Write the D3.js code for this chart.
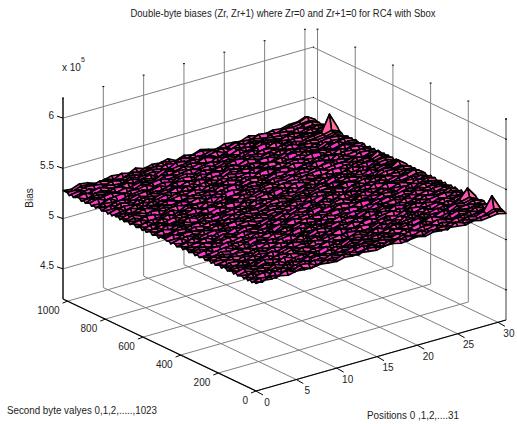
<!DOCTYPE html>
<html><head><meta charset="utf-8">
<style>html,body{margin:0;padding:0;background:#fff}svg{display:block}text{font-family:"Liberation Sans",Arial,sans-serif;fill:#222}</style>
<script src="https://cdnjs.cloudflare.com/ajax/libs/d3/7.8.5/d3.min.js"></script>
</head><body><svg id="c" width="517" height="424"></svg>
<script>
const titleText = "Double-byte biases (Zr, Zr+1) where Zr=0 and Zr+1=0 for RC4 with Sbox";
const zLabel = "Bias";
const yLabel = "Second byte valyes 0,1,2,.....,1023";
const xLabel = "Positions 0 ,1,2,....31";
const xTicks = [0,5,10,15,20,25,30];
const yTicks = [0,200,400,600,800,1000];
const zTicks = [4.5,5,5.5,6];
const zTickLabels = ["4.5","5","5.5","6"];
const xDomain = [0,31], yDomain = [0,1024], zDomain = [4.2,6.2];
const colourLimits = [5.2,5.47];
// bias per row of second-byte values, thousands above 500000
const biasRows = [
[27,28,27,28,26,28,27,27,28,27,26,28,27,28,27,26,28,28,26,27,28,26,28,27,28,27,26,28,26,27,28,26],
[28,25,29,27,30,26,28,25,27,29,26,30,27,25,29,28,26,27,30,25,28,26,29,27,25,30,27,26,28,28,30,27],
[26,28,27,24,28,26,30,29,25,27,28,26,29,26,27,30,25,29,26,28,27,30,25,28,27,26,29,27,25,28,31,28],
[28,27,25,30,26,28,25,27,29,26,30,27,25,28,30,26,28,25,27,29,26,27,28,30,26,28,25,29,27,30,43,29],
[26,28,30,26,29,27,28,30,26,28,25,29,27,30,25,27,29,28,26,25,30,28,26,25,29,27,30,26,28,28,31,27],
[28,26,27,29,25,30,26,24,28,30,27,25,28,26,29,28,26,30,27,29,25,27,29,28,26,25,27,29,26,28,29,26],
[26,29,25,27,28,26,29,27,30,25,28,26,30,27,25,29,27,25,28,26,30,26,25,27,30,28,26,25,29,27,28,28],
[28,27,28,26,30,27,25,29,26,28,27,29,25,28,26,30,28,26,29,27,25,28,30,26,27,29,25,28,26,30,27,26],
[27,25,29,28,26,24,28,26,27,30,25,27,29,26,28,25,27,29,26,30,28,26,27,29,25,26,28,30,27,26,29,28],
[26,28,26,30,27,29,25,28,29,26,28,30,26,25,29,27,30,26,28,25,27,29,26,28,30,27,29,26,25,28,27,27],
[28,30,27,25,29,26,30,27,25,28,26,25,29,27,30,26,25,28,27,29,26,30,25,27,28,26,25,29,27,26,28,26],
[26,27,29,26,28,25,27,30,28,26,29,27,26,30,25,28,26,29,25,27,30,26,28,29,25,27,30,26,28,29,27,28],
[28,25,28,27,30,28,26,25,29,27,24,28,30,26,27,29,28,25,30,26,28,27,25,30,26,28,27,25,29,27,30,28],
[27,28,26,29,25,27,29,28,26,30,27,29,25,28,26,27,30,26,28,25,29,26,28,27,29,25,26,28,30,28,30,26],
[26,29,27,26,28,30,26,27,29,25,28,26,27,29,30,25,27,28,26,29,27,25,30,26,28,27,29,25,27,29,31,27],
[28,26,30,25,27,29,25,28,30,27,26,30,28,25,26,29,28,26,27,30,25,28,26,29,25,30,26,28,26,30,39,29],
[28,27,25,28,26,27,30,26,25,28,29,25,27,29,28,26,25,30,29,26,28,27,29,25,28,26,27,30,25,29,31,28],
[26,29,28,27,29,25,28,27,29,26,24,28,26,30,27,25,29,27,25,28,30,26,25,28,27,29,25,27,29,26,30,26],
[28,25,26,30,27,28,26,25,27,30,28,27,29,25,28,30,26,28,26,27,25,29,27,30,26,25,28,29,26,28,29,28],
[27,29,28,25,26,30,27,29,26,28,25,29,26,27,30,28,27,25,29,30,26,28,25,27,29,28,26,25,30,27,28,26],
[26,27,30,28,29,26,25,28,30,27,29,26,28,25,27,29,26,30,28,25,27,29,30,26,28,25,29,27,26,29,27,28],
[28,28,25,27,26,29,28,26,25,29,27,30,25,28,26,25,29,27,26,28,30,25,27,29,26,30,27,25,28,26,30,26],
[26,30,27,29,28,25,27,30,28,26,25,28,27,30,29,26,28,25,30,27,26,29,28,25,27,29,26,28,29,30,28,28],
[28,26,25,27,30,28,26,25,27,29,30,26,29,25,27,28,30,26,27,29,25,28,26,30,28,25,29,27,25,28,29,26],
[27,29,28,26,25,27,29,28,30,26,27,25,28,27,30,26,25,29,28,26,30,27,29,26,25,28,26,30,28,27,31,27],
[26,27,30,28,29,26,30,27,25,28,29,26,27,30,25,28,27,26,29,25,28,26,30,27,29,26,28,25,27,29,28,28],
[28,26,27,25,28,30,26,29,27,26,25,28,30,26,29,27,28,30,25,27,29,28,25,28,26,30,27,29,26,28,30,26],
[27,28,29,30,26,27,25,28,26,30,27,29,25,28,27,25,29,26,28,30,26,25,27,29,30,27,25,28,30,26,28,28],
[26,25,27,28,29,25,28,30,27,25,29,26,28,30,26,29,27,25,29,27,28,26,30,25,28,26,29,27,25,29,29,27],
[28,30,26,25,27,29,26,25,28,29,27,30,26,25,28,27,30,28,26,25,27,29,28,26,27,29,25,30,28,26,30,26],
[26,27,29,28,30,26,28,27,25,30,26,28,27,29,26,25,28,26,27,30,29,26,25,28,30,26,28,26,27,29,28,28],
[28,26,28,27,25,28,30,26,29,27,25,29,26,28,30,27,25,29,30,26,28,25,27,29,26,28,30,27,29,26,30,26],
[27,28,25,30,26,27,25,29,28,26,28,30,27,25,26,29,28,26,25,28,27,30,29,25,28,27,26,25,28,30,27,28],
[26,29,27,25,28,30,27,25,26,29,27,25,28,30,27,25,30,27,28,26,25,28,26,27,30,29,25,28,26,27,29,27],
[28,25,30,27,29,26,28,30,27,25,28,26,29,26,28,29,26,25,27,30,28,27,29,25,26,28,27,30,25,29,28,26],
[28,27,26,28,25,29,26,28,29,27,30,26,25,28,30,27,25,28,29,26,25,29,26,28,27,30,26,25,29,27,30,28],
[26,28,29,25,27,30,28,25,26,29,25,27,29,26,27,25,29,30,26,28,27,25,30,27,29,25,28,27,26,30,28,26],
[28,25,27,30,26,28,25,27,30,28,26,29,27,25,30,28,26,27,25,29,30,26,28,25,27,29,26,30,28,25,29,28],
[27,29,26,28,29,25,27,30,26,25,28,30,26,29,28,26,27,29,28,25,26,28,27,30,26,28,25,27,29,28,30,27],
[26,27,30,26,25,28,29,26,28,27,25,27,28,30,25,29,28,26,30,27,29,25,28,26,29,27,30,28,25,30,28,26],
[28,26,28,27,29,30,26,25,29,30,27,26,29,25,27,30,25,28,27,26,28,30,25,29,28,26,25,29,27,28,30,28],
[28,30,25,29,27,25,28,27,26,25,29,28,25,27,29,26,28,30,26,29,25,27,29,27,25,30,28,26,29,30,33,28],
[26,27,29,26,30,28,26,29,30,28,26,30,27,28,26,25,29,27,25,28,30,26,28,25,30,27,26,28,30,28,30,27],
[28,28,26,28,25,27,30,26,25,27,29,25,28,30,27,29,26,25,28,30,27,29,26,28,27,25,29,27,26,29,28,28],
[27,25,29,30,27,29,25,28,27,29,26,28,27,25,29,28,30,27,26,25,29,28,25,30,26,28,27,30,28,26,30,26],
[28,30,27,25,28,26,29,27,30,26,28,25,29,27,26,30,27,25,29,27,26,30,28,27,29,26,30,28,29,28,29,28],
[28,26,28,27,30,28,25,29,28,26,30,27,26,29,28,26,28,29,27,30,28,26,29,25,28,30,27,29,26,30,28,27],
[28,27,30,29,26,27,29,28,26,30,27,29,28,30,26,29,27,30,28,26,29,28,27,30,28,27,29,28,30,29,30,28],
[26,28,25,27,29,30,26,28,25,27,30,26,29,25,28,27,26,29,30,25,27,28,26,29,25,30,28,26,27,29,30,27],
[28,25,27,30,26,28,29,25,27,28,26,30,25,27,29,30,28,25,27,26,29,30,25,28,27,26,29,25,30,29,34,28],
[27,30,28,26,25,27,30,28,29,26,25,28,27,29,26,25,30,27,29,28,26,25,29,27,30,28,25,27,28,30,30,26],
[26,28,26,29,27,25,28,26,30,27,29,26,28,25,30,27,28,26,25,29,27,30,26,28,25,29,27,30,26,28,30,28],
[28,26,30,27,29,26,25,30,27,28,25,29,26,30,27,25,29,28,27,30,26,28,25,27,29,26,30,28,27,29,28,26],
[28,29,25,28,26,30,27,29,25,26,28,27,30,25,28,26,27,30,25,28,29,26,27,30,25,28,26,27,29,28,29,28],
[26,27,29,25,28,27,29,26,28,30,27,25,28,26,29,30,25,27,29,26,28,25,30,26,29,27,28,25,30,27,26,28],
[28,25,30,26,27,29,25,28,26,25,29,30,27,28,25,26,29,30,28,25,27,29,26,28,27,30,25,29,26,28,29,26],
[26,29,27,28,30,26,28,27,30,29,26,27,25,29,28,30,26,25,27,30,28,26,29,25,28,26,30,27,25,29,30,28],
[28,26,28,25,27,30,26,25,28,27,30,26,29,27,25,28,27,29,26,25,30,27,28,29,26,25,27,28,29,28,30,27],
[27,30,26,29,25,28,27,30,26,29,25,28,26,30,27,29,25,28,30,27,26,28,25,27,30,29,26,30,28,29,31,28],
[26,28,29,27,30,25,29,26,27,25,28,29,27,25,30,26,28,27,25,29,28,30,27,26,25,28,29,26,30,29,34,26],
[28,25,27,28,26,27,28,29,25,30,26,27,29,28,26,25,29,30,26,27,25,28,29,30,27,26,25,29,27,29,30,28],
[28,29,26,25,28,30,26,27,29,28,25,30,26,27,29,28,26,25,29,28,30,26,27,25,28,29,30,27,26,28,29,26],
[26,27,30,29,26,28,25,29,26,27,30,28,25,26,28,30,27,29,26,25,27,29,28,30,26,27,28,25,29,27,30,27],
[28,26,28,27,25,29,30,28,27,26,28,25,29,30,27,26,28,25,30,27,29,26,25,28,29,30,26,27,28,26,28,28],
[27,28,25,30,29,26,27,25,28,30,26,29,27,28,25,29,30,26,28,29,25,27,30,26,27,25,29,28,26,30,29,26],
[26,30,27,25,28,29,26,30,27,25,29,27,30,25,26,28,27,29,25,26,28,30,27,29,25,28,26,30,27,25,27,28],
[28,25,29,26,27,30,28,26,29,28,26,25,27,29,30,25,28,26,27,30,29,25,28,26,30,29,27,25,28,29,30,26],
[26,29,27,30,28,26,25,27,28,30,27,29,26,25,28,27,30,29,26,28,25,27,26,29,27,28,25,30,26,27,28,28],
[28,26,28,25,29,27,30,28,25,26,29,28,27,30,26,29,25,27,28,26,30,29,25,27,28,26,30,27,29,28,26,27],
[27,28,26,29,25,28,26,29,30,27,25,26,29,28,27,25,30,28,26,25,29,27,30,28,26,29,25,28,26,30,29,26],
[28,25,30,27,28,26,29,25,27,28,30,27,25,26,30,28,26,25,29,30,27,28,26,25,29,27,28,26,30,27,25,28],
[26,27,28,30,26,29,25,27,30,26,28,25,29,27,28,26,29,30,27,25,28,26,29,30,27,25,26,29,28,26,29,28],
[28,30,25,26,29,27,28,30,26,29,27,30,26,28,25,29,27,28,26,29,25,30,27,26,28,30,29,25,27,30,27,26],
[26,26,29,28,27,30,26,28,25,27,26,28,30,25,29,27,26,25,30,28,27,26,29,28,25,27,30,28,26,29,28,27],
[28,28,27,25,30,26,27,29,28,25,30,26,27,29,26,30,28,27,25,26,30,29,25,27,29,26,28,30,25,27,29,28],
[27,25,30,28,26,29,28,25,27,30,26,29,25,28,30,26,25,29,28,27,26,28,30,25,27,29,26,25,28,30,26,26],
[26,29,26,27,28,25,30,27,29,26,28,25,30,27,28,25,29,26,30,25,28,27,26,29,30,28,27,26,29,27,30,28],
[28,27,29,30,25,28,26,29,25,28,27,30,26,29,25,27,30,28,26,29,27,25,28,30,26,25,29,27,30,26,28,26],
[28,26,25,28,27,29,30,26,27,29,25,27,28,26,30,29,27,25,28,26,29,30,27,25,28,29,26,30,25,28,27,28],
[26,28,27,26,29,27,25,28,30,26,29,28,26,30,27,25,28,30,26,27,25,28,29,26,30,27,28,25,29,30,29,27],
[28,27,30,25,26,28,29,27,26,25,28,30,29,25,27,28,26,29,27,30,28,26,25,30,27,26,29,28,26,29,30,26],
[26,25,28,29,30,26,27,25,28,29,27,26,25,28,30,27,29,26,25,28,30,27,29,26,28,25,27,30,28,29,31,28],
[28,30,26,27,25,29,28,30,26,27,25,29,30,27,26,28,25,27,30,29,26,25,28,29,27,30,26,28,29,30,32,29],
[27,26,29,30,28,25,27,26,29,30,28,25,27,26,29,30,26,28,25,27,29,28,26,25,30,27,25,29,30,31,47,32],
[26,29,27,26,28,30,26,29,25,28,26,27,29,30,28,25,27,29,26,30,25,27,29,28,26,29,28,26,27,29,32,28],
[28,28,25,29,27,26,28,30,27,25,29,28,26,25,27,29,30,26,28,25,27,30,26,28,25,27,30,29,28,29,30,27],
[26,27,28,25,30,29,25,27,28,26,30,27,29,28,25,26,28,27,30,26,29,28,25,27,30,26,28,27,30,28,29,28],
[28,25,29,27,26,28,30,25,29,27,26,25,28,30,27,29,25,30,27,28,26,25,29,30,26,28,27,25,29,27,30,26],
[28,30,26,28,25,27,29,26,28,30,25,29,27,26,30,28,26,25,29,27,30,26,28,25,29,27,30,26,28,30,28,28],
[27,26,28,30,27,25,28,29,26,25,27,30,28,29,25,27,30,28,26,25,28,29,27,30,26,25,28,29,27,26,31,26],
[26,28,30,26,29,27,26,30,27,28,29,26,25,27,28,30,26,29,25,28,30,27,26,29,28,27,25,30,26,29,28,28],
[28,29,27,25,26,30,28,27,25,29,30,28,26,30,29,25,27,28,30,26,27,25,30,26,29,28,27,26,30,28,29,27],
[26,27,30,29,28,26,25,29,28,26,27,25,30,28,26,27,29,25,28,30,26,29,27,28,25,30,29,28,26,30,31,28],
[28,28,26,27,30,28,27,26,30,27,28,29,27,25,30,28,26,27,29,26,28,30,25,29,27,26,28,30,29,30,31,28],
[28,26,29,28,27,29,26,30,28,26,29,27,30,28,27,26,29,30,27,28,26,29,28,27,30,29,26,28,30,31,34,29],
[28,27,30,29,26,27,29,28,26,30,27,29,28,30,26,29,27,30,28,26,29,28,27,30,28,27,29,28,30,30,33,28]
];
const positions = d3.range(biasRows[0].length);
const byteValues = biasRows.map((_, j) => j * 1023 / (biasRows.length - 1));
const zVal = v => 5 + v / 100;            // ×10^5

const svg = d3.select("#c");
const axisLeft = 63, axisFrontX = 256, axisRight = 506;
const floorLeft = 299, floorFront = 391, floorRight = 320, zPx = 201;
const sxX = d3.scaleLinear().domain(xDomain).range([0, axisRight - axisFrontX]);
const sxY = d3.scaleLinear().domain(yDomain).range([0, axisLeft - axisFrontX]);
const syX = d3.scaleLinear().domain(xDomain).range([0, floorRight - floorFront]);
const syY = d3.scaleLinear().domain(yDomain).range([0, floorLeft - floorFront]);
const syZ = d3.scaleLinear().domain(zDomain).range([0, -zPx]);
const P = (x, y, z) => [axisFrontX + sxX(x) + sxY(y), floorFront + syX(x) + syY(y) + syZ(z)];
const line = (a, b, col, w) => svg.append("line").attr("x1", a[0]).attr("y1", a[1]).attr("x2", b[0]).attr("y2", b[1])
  .attr("stroke", col).attr("stroke-width", w);
const [zMin, zMax] = zDomain, [xMin, xMax] = xDomain, [yMin, yMax] = yDomain;
const gridCol = "#808080";

// floor grid and walls
xTicks.forEach(x => {
  line(P(x, yMin, zMin), P(x, yMax, zMin), gridCol, 1);
  line(P(x, yMax, zMin), P(x, yMax, zMax), gridCol, 1);
  const top = P(x, yMax, zMax); line([top[0]-1, top[1]], [top[0]+1, top[1]], "#000", 1);
});
yTicks.forEach(y => {
  line(P(xMin, y, zMin), P(xMax, y, zMin), gridCol, 1);
  line(P(xMax, y, zMin), P(xMax, y, zMax), gridCol, 1);
  const top = P(xMax, y, zMax); line([top[0]-1, top[1]], [top[0]+1, top[1]], "#000", 1);
});
line(P(xMax, yMin, zMin), P(xMax, yMin, zMax), gridCol, 1);
const t0 = P(xMax, yMin, zMax); line([t0[0]-1, t0[1]], [t0[0]+1, t0[1]], "#000", 1);
zTicks.forEach(z => {
  line(P(xMin, yMax, z), P(xMax, yMax, z), gridCol, 1);
  line(P(xMax, yMax, z), P(xMax, yMin, z), gridCol, 1);
  const e = P(xMax, yMin, z); line([e[0]-1, e[1]], [e[0]+1, e[1]], "#000", 1);
  const b = P(xMax, yMax, z); line([b[0], b[1]], [b[0]+1, b[1]], "#000", 1);
});

// surface, far cells first; each face takes the colour of its first corner (spring colormap)
const colour = d3.scaleLinear().domain(colourLimits).range(["#ff00ff", "#ffff00"]).clamp(true);
const cells = [];
for (let j = biasRows.length - 2; j >= 0; j--) for (let i = positions.length - 2; i >= 0; i--) cells.push({i, j});
const corner = (i, j) => P(positions[i], byteValues[j], zVal(biasRows[j][i]));
svg.append("g").selectAll("path").data(cells).join("path")
  .attr("d", d => "M" + [corner(d.i,d.j), corner(d.i+1,d.j), corner(d.i+1,d.j+1), corner(d.i,d.j+1)].join("L") + "Z")
  .attr("fill", d => colour(zVal(biasRows[d.j][d.i])))
  .attr("stroke", "#000").attr("stroke-width", 1.6).attr("stroke-linejoin", "round");

// axes
line(P(xMin, yMax, zMin), P(xMin, yMax, zMax), "#000", 1.2);
line(P(xMin, yMax, zMin), P(xMin, yMin, zMin), "#000", 1.2);
line(P(xMin, yMin, zMin), P(xMax, yMin, zMin), "#000", 1.2);
const label = (x, y, s, size, anchor) => svg.append("text").attr("x", x).attr("y", y).attr("font-size", size)
  .attr("text-anchor", anchor || "start").attr("dominant-baseline", "middle").text(s);
zTicks.forEach((z, k) => {
  const p = P(xMin, yMax, z);
  line(p, [p[0]-6, p[1]-2], "#000", 1);
  label(p[0]-9, p[1]-2, zTickLabels[k], 10, "end");
});
yTicks.forEach(y => {
  const p = P(xMin, y, zMin);
  line(p, [p[0]-5, p[1]+2], "#000", 1);
  label(p[0]-8, p[1]+10, d3.format("d")(y), 10, "end");
});
xTicks.forEach(x => {
  const p = P(x, yMin, zMin);
  line(p, [p[0]+7, p[1]+4], "#000", 1);
  label(p[0]+11, p[1]+12, d3.format("d")(x), 10, "middle");
});
label(283, 14, titleText, 10, "middle").attr("textLength", 305).attr("lengthAdjust", "spacingAndGlyphs");
label(62, 68, "x 10", 10);
label(81, 60, "5", 7);
svg.append("text").attr("font-size", 10).attr("text-anchor", "middle").attr("dominant-baseline", "middle")
  .attr("transform", "translate(30,198) rotate(-90)").text(zLabel);
label(7, 411, yLabel, 10).attr("textLength", 150).attr("lengthAdjust", "spacingAndGlyphs");
label(367, 416, xLabel, 10).attr("textLength", 92).attr("lengthAdjust", "spacingAndGlyphs");
</script></body></html>
